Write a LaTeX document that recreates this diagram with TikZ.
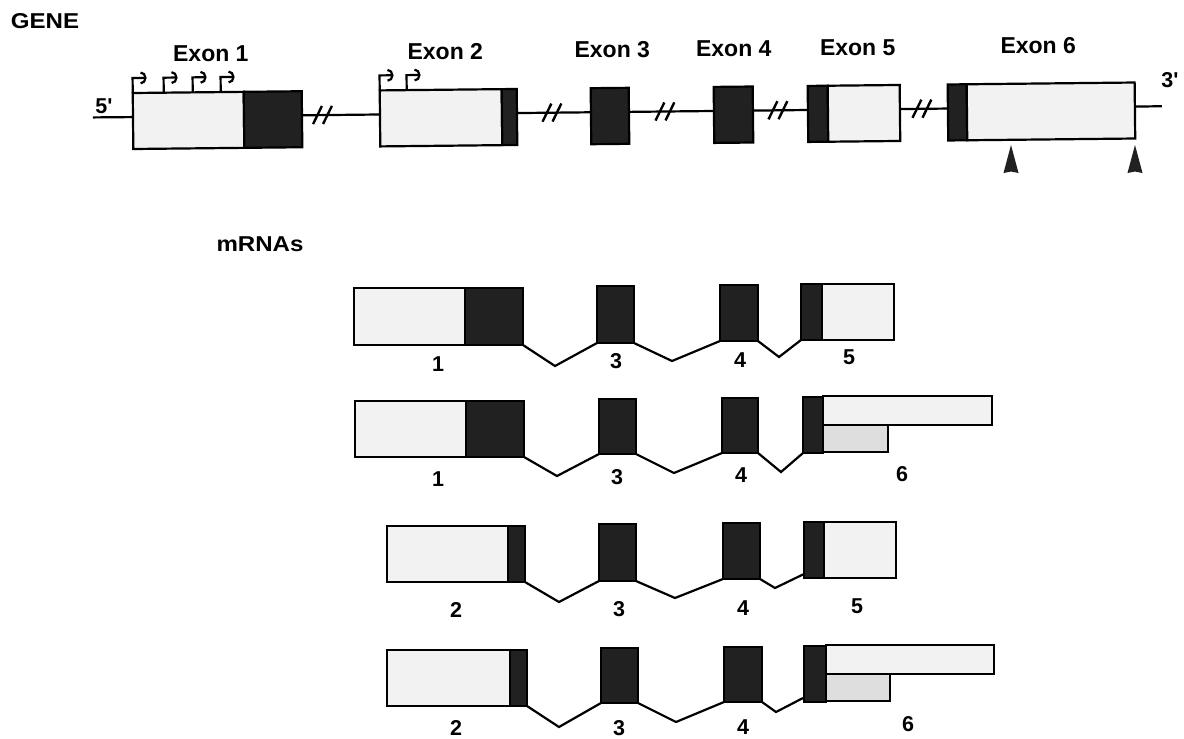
\documentclass[tikz,border=0pt]{standalone}
\usepackage{fontspec}
\setmainfont{Liberation Sans}
\usetikzlibrary{arrows.meta,calc}
\definecolor{litegray}{gray}{0.95}
\definecolor{midgray}{gray}{0.87}
\definecolor{inkdark}{gray}{0.13}
\newcommand\lblfont{\fontsize{21.5}{21.5}\selectfont\bfseries}
\newcommand\exfont{\fontsize{23}{23}\selectfont\bfseries}
\newcommand\prm{\textquotesingle}
\begin{document}
\begin{tikzpicture}[x=1pt,y=-1pt,
  box/.style={draw=black, line width=2.2pt, inner sep=0pt, outer sep=0pt, anchor=north west},
  lite/.style={box, fill=litegray},
  lite2/.style={box, fill=midgray},
  drk/.style={box, fill=inkdark},
  gline/.style={line width=2.2pt},
  splice/.style={line width=2.2pt, line join=miter},
  brk/.style={line width=2.4pt},
  prom/.style={line width=2.2pt, -{Arc Barb[length=6pt,width=13pt]}},
  lbl/.style={font=\lblfont, inner sep=0pt},
  exl/.style={font=\exfont, inner sep=0pt},
  polya/.style={fill=inkdark}
]
\useasboundingbox (0,0) rectangle (1184,739);
\fill[white] (0,0) rectangle (1184,739);

% ---------------- GENE ----------------
\node[lbl, xscale=1.12] (genelbl) at (45,21) {GENE};
\node[lbl] (fivep) at (104,106) {5\prm};
\node[lbl] (threep) at (1170,80) {3\prm};

\begin{scope}[rotate around={0.6:(133,118)}]
  \tikzset{box/.append style={transform shape}}
  % exons
  \node[lite, minimum width=111pt, minimum height=56pt] (g1a) at (133,93) {};
  \node[drk,  minimum width=58pt,  minimum height=56pt] (g1b) at (244,93) {};
  \node[lite, minimum width=122pt, minimum height=56pt] (g2a) at (380,93) {};
  \node[drk,  minimum width=15pt,  minimum height=56pt] (g2b) at (502,93) {};
  \node[drk,  minimum width=38pt,  minimum height=56pt] (g3)  at (591,93) {};
  \node[drk,  minimum width=39pt,  minimum height=56pt] (g4)  at (714,93) {};
  \node[drk,  minimum width=20pt,  minimum height=56pt] (g5b) at (808,93) {};
  \node[lite, minimum width=72pt,  minimum height=56pt] (g5a) at (828,93) {};
  \node[drk,  minimum width=19pt,  minimum height=56pt] (g6b) at (948,93) {};
  \node[lite, minimum width=168pt, minimum height=56pt] (g6a) at (967,93) {};
  % line attachment points
  \coordinate (s0) at (93,117);
  \coordinate (e3end) at (1162,117);
  \foreach \n in {g1a,g2a,g3,g4,g5b,g6b}{
    \coordinate (\n L) at ($(\n.north west)!0.43!(\n.south west)$);}
  \foreach \n in {g1b,g2b,g3,g4,g5a,g6a}{
    \coordinate (\n R) at ($(\n.north east)!0.43!(\n.south east)$);}
  \draw[gline] (s0) -- (g1aL);
  \draw[gline] (g1bR) -- (g2aL);
  \draw[gline] (g2bR) -- (g3L);
  \draw[gline] (g3R) -- (g4L);
  \draw[gline] (g4R) -- (g5bL);
  \draw[gline] (g5aR) -- (g6bL);
  \draw[gline] (g6aR) -- (e3end);
  % break marks
  \foreach \c in {322.5,552,665,778,922}{
    \draw[brk] (\c-9.5,126) -- (\c-0.5,108);
    \draw[brk] (\c+0.5,126) -- (\c+9.5,108);}
  % promoter arrows
  \foreach \o in {0,31,60,88}{
    \draw[prom] ($(g1a.north west)+(\o,0)$) -- ++(0,-15) -- ++(14,0);}
  \foreach \o in {0,27}{
    \draw[prom] ($(g2a.north west)+(\o,0)$) -- ++(0,-15) -- ++(14,0);}
  % exon labels
  \node[exl] (x1) at (211.5,55) {Exon 1};
  \node[exl] (x2) at (446,55) {Exon 2};
  \node[exl] (x3) at (613,55) {Exon 3};
  \node[exl] (x4) at (734.5,55) {Exon 4};
  \node[exl] (x5) at (858.5,55) {Exon 5};
  \node[exl] (x6) at (1039,55) {Exon 6};
\end{scope}

% polyadenylation markers
\fill[polya] (1011,145) -- (1018.5,173) -- (1011,171.5) -- (1003.5,173) -- cycle;
\fill[polya] (1135,145) -- (1142.5,173) -- (1135,171.5) -- (1127.5,173) -- cycle;

% ---------------- mRNAs ----------------
\node[lbl, xscale=1.12] (mrnalbl) at (260,244) {mRNAs};

% row 1
\node[lite, minimum width=111pt, minimum height=57pt] (r1a) at (354,288) {};
\node[drk,  minimum width=58pt,  minimum height=57pt] (r1b) at (465,288) {};
\node[drk,  minimum width=37pt,  minimum height=57pt] (r1c) at (597,286) {};
\node[drk,  minimum width=38pt,  minimum height=56pt] (r1d) at (720,285) {};
\node[drk,  minimum width=21pt,  minimum height=56pt] (r1e) at (801,284) {};
\node[lite, minimum width=72pt,  minimum height=56pt] (r1f) at (822,284) {};
\coordinate (r1v1) at (555,366);
\coordinate (r1v2) at (672,361);
\coordinate (r1v3) at (779,357);
\draw[splice] (r1b.south east) -- (r1v1) -- (r1c.south west);
\draw[splice] (r1c.south east) -- (r1v2) -- (r1d.south west);
\draw[splice] (r1d.south east) -- (r1v3) -- (r1e.south west);
\node[lbl] (r1l1) at (438,364) {1};
\node[lbl] (r1l3) at (616,361) {3};
\node[lbl] (r1l4) at (740,360) {4};
\node[lbl] (r1l5) at (849,357) {5};

% row 2
\node[lite, minimum width=111pt, minimum height=56pt] (r2a) at (355,401) {};
\node[drk,  minimum width=58pt,  minimum height=56pt] (r2b) at (466,401) {};
\node[drk,  minimum width=37pt,  minimum height=55pt] (r2c) at (599,399) {};
\node[drk,  minimum width=36pt,  minimum height=55pt] (r2d) at (722,398) {};
\node[drk,  minimum width=20pt,  minimum height=56pt] (r2e) at (803,397) {};
\node[lite, minimum width=169pt, minimum height=29pt] (r2f) at (823,396) {};
\node[lite2,minimum width=65pt,  minimum height=27pt] (r2g) at (823,425) {};
\coordinate (r2v1) at (557,476);
\coordinate (r2v2) at (674,473);
\coordinate (r2v3) at (781,472);
\draw[splice] (r2b.south east) -- (r2v1) -- (r2c.south west);
\draw[splice] (r2c.south east) -- (r2v2) -- (r2d.south west);
\draw[splice] (r2d.south east) -- (r2v3) -- (r2e.south west);
\node[lbl] (r2l1) at (438,479) {1};
\node[lbl] (r2l3) at (617,477) {3};
\node[lbl] (r2l4) at (741,475) {4};
\node[lbl] (r2l6) at (902,474) {6};

% row 3
\node[lite, minimum width=121pt, minimum height=56pt] (r3a) at (387,526) {};
\node[drk,  minimum width=17pt,  minimum height=56pt] (r3b) at (508,526) {};
\node[drk,  minimum width=37pt,  minimum height=57pt] (r3c) at (599,524) {};
\node[drk,  minimum width=37pt,  minimum height=56pt] (r3d) at (723,523) {};
\node[drk,  minimum width=20pt,  minimum height=56pt] (r3e) at (804,522) {};
\node[lite, minimum width=72pt,  minimum height=56pt] (r3f) at (824,522) {};
\coordinate (r3v1) at (559,602);
\coordinate (r3v2) at (675,598);
\coordinate (r3v3) at (775,588);
\coordinate (r3end) at (804,574);
\draw[splice] (r3b.south east) -- (r3v1) -- (r3c.south west);
\draw[splice] (r3c.south east) -- (r3v2) -- (r3d.south west);
\draw[splice] (r3d.south east) -- (r3v3) -- (r3end);
\node[lbl] (r3l2) at (456,610) {2};
\node[lbl] (r3l3) at (619,609) {3};
\node[lbl] (r3l4) at (743,608) {4};
\node[lbl] (r3l5) at (857,606) {5};

% row 4
\node[lite, minimum width=123pt, minimum height=56pt] (r4a) at (387,650) {};
\node[drk,  minimum width=17pt,  minimum height=56pt] (r4b) at (510,650) {};
\node[drk,  minimum width=37pt,  minimum height=55pt] (r4c) at (601,648) {};
\node[drk,  minimum width=38pt,  minimum height=55pt] (r4d) at (724,647) {};
\node[drk,  minimum width=22pt,  minimum height=56pt] (r4e) at (804,646) {};
\node[lite, minimum width=168pt, minimum height=29pt] (r4f) at (826,645) {};
\node[lite2,minimum width=64pt,  minimum height=27pt] (r4g) at (826,674) {};
\coordinate (r4v1) at (559,727);
\coordinate (r4v2) at (676,722);
\coordinate (r4v3) at (776,712);
\coordinate (r4end) at (803,698);
\draw[splice] (r4b.south east) -- (r4v1) -- (r4c.south west);
\draw[splice] (r4c.south east) -- (r4v2) -- (r4d.south west);
\draw[splice] (r4d.south east) -- (r4v3) -- (r4end);
\node[lbl] (r4l2) at (456,728) {2};
\node[lbl] (r4l3) at (619,728) {3};
\node[lbl] (r4l4) at (743,727) {4};
\node[lbl] (r4l6) at (908,724) {6};
\end{tikzpicture}
\end{document}
